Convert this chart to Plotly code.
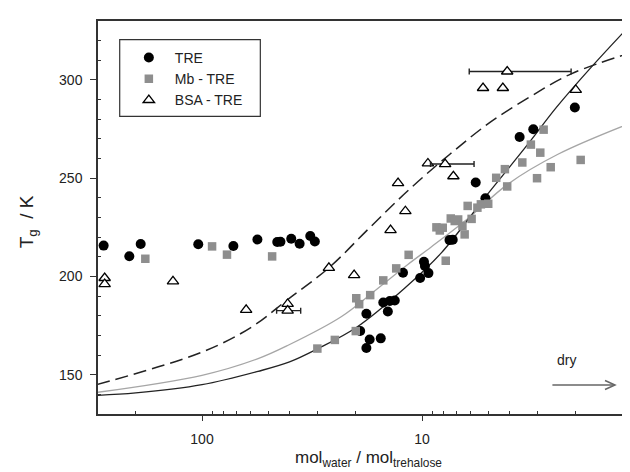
import math
import plotly.graph_objects as go

# TRE (black circles)
tre_x = [280, 214, 190, 104, 72, 56, 45.5, 44, 39.3, 36, 32.2, 30.7,
         19.1, 17.9, 17.9, 17.3, 15.4, 15.0, 14.3, 14.0, 13.3, 12.2,
         10.2, 9.8, 9.7, 9.35, 7.5, 7.25, 5.7, 5.15, 3.6, 3.12, 2.02]
tre_y = [215.7, 210.3, 216.5, 216.4, 215.5, 218.8, 217.5, 217.7, 219.2, 216.6, 220.6, 217.8,
         172.2, 181.0, 163.6, 167.9, 168.5, 186.7, 182.2, 187.5, 187.8, 201.9,
         199.2, 207.5, 205.3, 201.7, 218.5, 218.7, 247.8, 239.8, 271.0, 274.9, 286.0]

# Mb - TRE (grey squares)
mb_x = [181, 90, 77, 48, 29.9, 24.9, 20.0, 19.9, 19.3, 17.2, 15.0, 13.1, 11.5,
        8.6, 8.3, 8.05, 7.8, 7.4, 7.1, 6.85, 6.55, 6.4, 6.2, 5.95, 5.6, 5.4, 5.0,
        4.6, 4.2, 4.1, 3.5, 3.2, 3.0, 2.9, 2.8, 2.6, 1.9]
mb_y = [209, 215.3, 211.1, 210.2, 163.3, 167.7, 172.2, 188.9, 185.9, 190.5, 198, 204.1, 211,
        225, 223.4, 224.8, 208, 229.5, 228.2, 229, 225.7, 221.4, 235.9, 229.3, 235, 236.7, 237,
        250.2, 254.6, 245.8, 258, 267.1, 250, 263, 274.7, 255.6, 259.3]

# BSA - TRE (open triangles)
bsa_x = [277, 277, 135.5, 63, 40.8, 26.5, 20.35, 13.9, 12.85, 11.9, 9.4, 7.2, 5.28, 4.29, 2.0]
bsa_y = [199.2, 196.1, 197.5, 183, 186.0, 204.4, 200.7, 223.6, 247.5, 233.2, 257.5, 251, 295.9, 295.9, 294.9]

# BSA points carrying horizontal error bars
bsa_err_x = [40.8, 7.85, 4.1]
bsa_err_y = [182.6, 257.2, 304.3]
bsa_err_plus = [5.0, 1.3, 2.0]
bsa_err_minus = [5.2, 2.05, 2.0]

# fitted curves
fit_tre_x = [300, 200, 100, 55.6, 40, 29.8, 19.9, 12, 8.17, 5.19, 3.3, 2.45, 1.7, 1.08]
fit_tre_y = [139.5, 140.7, 144.9, 151.7, 156.5, 163.2, 174, 194, 212, 240, 267.3, 286, 306.5, 330.3]

fit_mb_x = [300, 100, 55.6, 40.6, 23.3, 16.1, 11.6, 9.08, 6.18, 4.07, 2.41, 1.04]
fit_mb_y = [141, 149.7, 158.2, 165, 179.5, 193.4, 206.1, 215, 229.5, 247, 262.2, 279.6]

fit_bsa_x = [300, 100, 60, 40, 26.5, 17.3, 11.5, 7.47, 4.91, 3.22, 2.11, 1.04]
fit_bsa_y = [145, 161.5, 174, 189, 204.4, 224.8, 244, 262.2, 278.4, 291.5, 303, 315]

x_major = [10, 100]
x_minor = [2, 3, 4, 5, 6, 7, 8, 9, 20, 30, 40, 50, 60, 70, 80, 90, 200, 300]
y_major = [150, 200, 250, 300]
y_minor = [140, 160, 170, 180, 190, 210, 220, 230, 240, 260, 270, 280, 290, 310, 320]

FONT = "Liberation Sans, Arial, sans-serif"
AX = "#333333"

fig = go.Figure()

fig.add_trace(go.Scatter(x=fit_bsa_x, y=fit_bsa_y, mode="lines", line_shape="spline",
                         line=dict(color="#222222", width=1.5, dash="13px,6px"), showlegend=False))
fig.add_trace(go.Scatter(x=fit_mb_x, y=fit_mb_y, mode="lines", line_shape="spline",
                         line=dict(color="#a6a6a6", width=1.3), showlegend=False))
fig.add_trace(go.Scatter(x=fit_tre_x, y=fit_tre_y, mode="lines", line_shape="spline",
                         line=dict(color="#222222", width=1.3), showlegend=False))

fig.add_trace(go.Scatter(x=tre_x, y=tre_y, mode="markers", name="TRE",
                         marker=dict(symbol="circle", size=10, color="black")))
fig.add_trace(go.Scatter(x=mb_x, y=mb_y, mode="markers", name="Mb - TRE",
                         marker=dict(symbol="square", size=8.5, color="#8e8e8e")))
fig.add_trace(go.Scatter(x=bsa_x, y=bsa_y, mode="markers", name="BSA - TRE",
                         marker=dict(symbol="triangle-up", size=10, color="white",
                                     line=dict(color="black", width=1.3))))
fig.add_trace(go.Scatter(x=bsa_err_x, y=bsa_err_y, mode="markers", showlegend=False,
                         marker=dict(symbol="triangle-up", size=10, color="white",
                                     line=dict(color="black", width=1.3)),
                         error_x=dict(type="data", symmetric=False, array=bsa_err_plus,
                                      arrayminus=bsa_err_minus, color="#222222",
                                      thickness=1.4, width=3)))

# legend frame
fig.add_shape(type="rect", xref="paper", yref="paper", x0=0.0402, x1=0.3006, y0=0.7575, y1=0.9524,
              line=dict(color=AX, width=1.2), fillcolor="rgba(0,0,0,0)")

# "dry" arrow
fig.add_shape(type="line", xref="paper", yref="paper", x0=0.8415, x1=0.9556, y0=0.0738, y1=0.0738,
              line=dict(color="#666", width=1.7))
fig.add_shape(type="path", xref="paper", yref="paper",
              path="M 0.9389 0.0852 L 0.9574 0.0738 L 0.9389 0.0623",
              line=dict(color="#666", width=1.5))

fig.add_annotation(xref="paper", yref="paper", x=0.5, y=-0.147, yanchor="bottom",
                   text="mol<sub>water</sub> / mol<sub>trehalose</sub>", showarrow=False,
                   font=dict(family=FONT, size=17, color="#222"))
fig.add_annotation(xref="paper", yref="paper", x=-0.128, y=0.49, xanchor="center",
                   text="T<sub>g</sub>\u00a0\u00a0/ K", showarrow=False, textangle=-90,
                   font=dict(family=FONT, size=19, color="#222"))
fig.add_annotation(xref="paper", yref="paper", x=0.889, y=0.112, text="dry", showarrow=False,
                   font=dict(family=FONT, size=14, color="#222"))

fig.update_layout(
    width=630, height=472,
    margin=dict(l=90, r=0, t=13, b=66),
    paper_bgcolor="white", plot_bgcolor="white",
    font=dict(family=FONT, size=14, color="#222"),
    showlegend=True,
    legend=dict(x=0.046, y=0.9466, xanchor="left", yanchor="top", bgcolor="rgba(0,0,0,0)",
                borderwidth=0, itemwidth=42, font=dict(family=FONT, size=14, color="#222"),
                tracegroupgap=0),
    xaxis=dict(type="log", range=[math.log10(297), 0.0182],
               tickmode="array", tickvals=x_major, ticktext=["10", "100"],
               ticks="outside", ticklen=5, tickwidth=1.3, tickcolor=AX, ticklabelstandoff=6,
               showline=True, linewidth=1.5, linecolor=AX, mirror=True,
               showgrid=False, zeroline=False,
               minor=dict(tickmode="array", tickvals=x_minor, ticks="inside", ticklen=3,
                          tickwidth=1.2, tickcolor=AX, showgrid=False)),
    yaxis=dict(range=[130, 330], tickmode="array", tickvals=y_major,
               ticks="outside", ticklen=6, tickwidth=1.3, tickcolor=AX, ticklabelstandoff=5,
               showline=True, linewidth=1.5, linecolor=AX, mirror=False,
               showgrid=False, zeroline=False,
               minor=dict(tickmode="array", tickvals=y_minor, ticks="inside", ticklen=3,
                          tickwidth=1.2, tickcolor=AX, showgrid=False)),
)

fig.write_html("out.html")
